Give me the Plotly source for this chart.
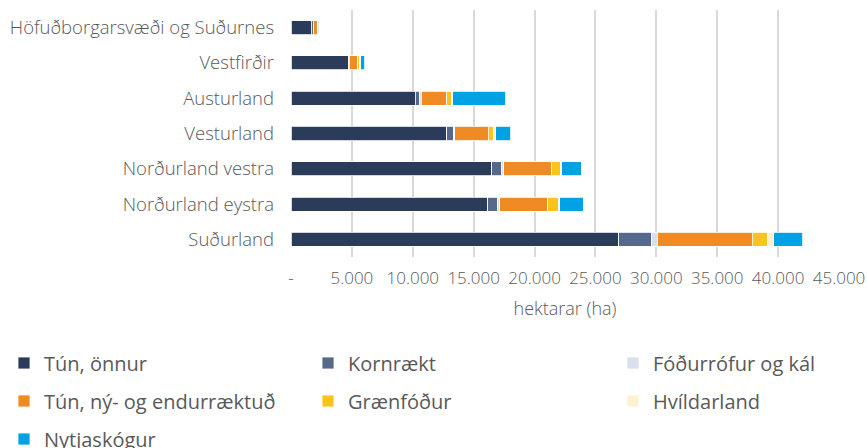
import plotly.graph_objects as go

# Landshlutar, frá efsta til neðsta í myndinni
regions = [
    "Höfuðborgarsvæði og Suðurnes",
    "Vestfirðir",
    "Austurland",
    "Vesturland",
    "Norðurland vestra",
    "Norðurland eystra",
    "Suðurland",
]

# Ræktað land eftir tegund (hektarar)
tun_onnur = [1650, 4740, 10220, 12770, 16470, 16140, 26920]
kornraekt = [170, 30, 355, 600, 820, 800, 2690]
fodurrofur = [10, 10, 140, 80, 190, 190, 460]
tun_ny = [320, 690, 2055, 2745, 3900, 3970, 7790]
graenfodur = [50, 130, 410, 460, 765, 880, 1230]
hvildarland = [10, 115, 110, 165, 80, 80, 550]
nytjaskogur = [60, 330, 4360, 1210, 1590, 1950, 2385]

tick_vals = [0, 5000, 10000, 15000, 20000, 25000, 30000, 35000, 40000, 45000]
tick_text = ["-", "5.000", "10.000", "15.000", "20.000", "25.000",
             "30.000", "35.000", "40.000", "45.000"]

# (heiti, gildi, litur, dálkur skýringar, röð skýringar)
series = [
    ("Tún, önnur", tun_onnur, "#2b3c5a", 0, 0),
    ("Kornrækt", kornraekt, "#56698a", 1, 0),
    ("Fóðurrófur og kál", fodurrofur, "#d7e0eb", 2, 0),
    ("Tún, ný- og endurræktuð", tun_ny, "#f08a24", 0, 1),
    ("Grænfóður", graenfodur, "#fcc31e", 1, 1),
    ("Hvíldarland", hvildarland, "#fdf1cf", 2, 1),
    ("Nytjaskógur", nytjaskogur, "#00a2e3", 0, 2),
]

FONT = "Open Sans, Noto Sans, sans-serif"
GREY = "#595959"
W, H = 867, 448
col_x = [4, 308, 613]      # vinstri brún hvers dálks í skýringu (px)
row_y = [363, 401, 439]    # miðja hverrar raðar í skýringu (px)

fig = go.Figure()
legends = {}
for i, (name, vals, color, col, row) in enumerate(series):
    key = "legend" if i == 0 else f"legend{i + 1}"
    fig.add_trace(go.Bar(
        y=regions, x=vals, name=name, orientation="h",
        marker=dict(color=color, line=dict(color="white", width=0.8)),
        legend=key, showlegend=True,
    ))
    legends[key] = dict(
        orientation="h", xref="container", yref="container",
        x=col_x[col] / W, y=1 - row_y[row] / H,
        xanchor="left", yanchor="middle",
        font=dict(family=FONT, size=20, color=GREY, weight="normal"),
        bgcolor="rgba(0,0,0,0)", itemclick=False,
    )

fig.update_layout(
    width=W, height=H,
    barmode="stack", bargap=0.6, showlegend=True,
    plot_bgcolor="white", paper_bgcolor="white",
    margin=dict(l=291, r=28, t=10, b=191),
    font=dict(family=FONT, size=16, color=GREY, weight=300),
    xaxis=dict(
        range=[0, 45000], tickvals=tick_vals, ticktext=tick_text,
        showgrid=True, gridcolor="#d9d9d9", gridwidth=1.5,
        zeroline=False, showline=False, ticks="", ticklabelstandoff=9,
        automargin=False,
        title=dict(text="hektarar (ha)", standoff=14,
                   font=dict(family=FONT, size=18, color=GREY, weight=300)),
        tickfont=dict(family=FONT, size=17, color=GREY, weight=300),
    ),
    yaxis=dict(
        autorange="reversed", showgrid=False, zeroline=False, showline=False,
        ticks="", ticklabelstandoff=16, automargin=False,
        tickfont=dict(family=FONT, size=18.5, color=GREY, weight=300),
    ),
    **legends,
)

fig.write_html("out.html")
